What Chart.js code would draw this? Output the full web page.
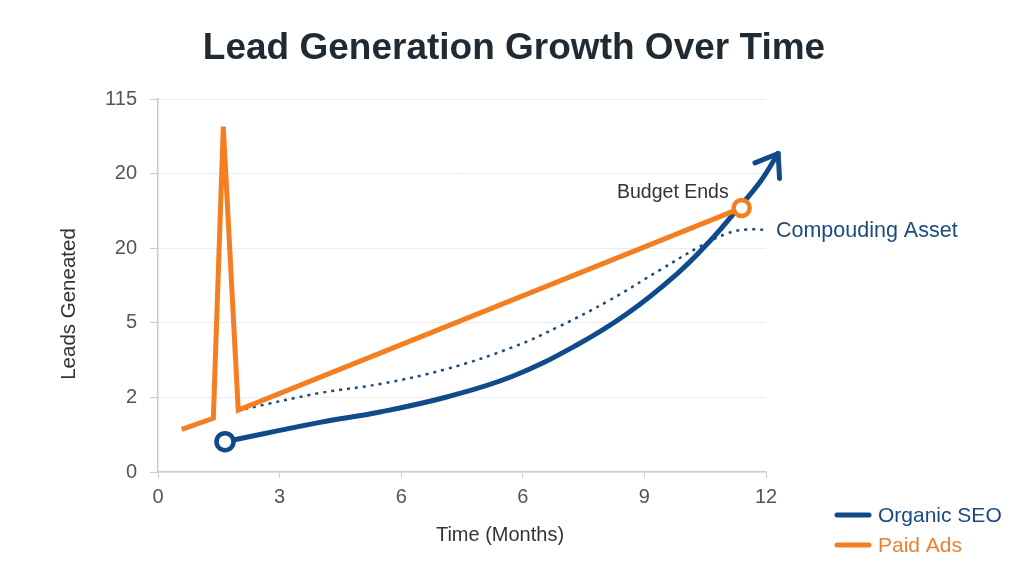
<!DOCTYPE html>
<html>
<head>
<meta charset="utf-8">
<script src="https://cdn.jsdelivr.net/npm/chart.js@4"></script>
<style>
  html, body { margin: 0; padding: 0; background: #fff; }
  #wrap { width: 1024px; height: 585px; }
</style>
</head>
<body>
<div id="wrap"><canvas id="leadChart" width="1024" height="585"></canvas></div>
<script>
// --- Chart data (axis units: evenly spaced tick slots) ---
const xTickLabels = ['0', '3', '6', '6', '9', '12'];
const yTickLabels = ['0', '2', '5', '20', '20', '115'];

const organicX = [0.551, 1.332, 1.826, 2.374, 2.922, 3.429, 3.854, 4.266, 4.539, 4.731, 4.951, 5.10];
const organicY = [0.406, 0.665, 0.804, 1.005, 1.287, 1.689, 2.118, 2.654, 3.097, 3.458, 3.887, 4.27];

const paidX = [0.195, 0.455, 0.537, 0.660, 4.80];
const paidY = [0.57, 0.72, 4.63, 0.83, 3.54];

const assetX = [0.715, 1.332, 1.826, 2.374, 2.922, 3.306, 3.717, 4.128, 4.457, 4.679, 4.844, 5.008];
const assetY = [0.845, 1.059, 1.180, 1.381, 1.676, 1.957, 2.306, 2.708, 3.023, 3.197, 3.251, 3.244];

const BLUE = '#0f4a8a';
const ORANGE = '#f47e22';
const DOT_BLUE = '#1d4a7e';
const FONT = '"Liberation Sans", Arial, sans-serif';

function toPoints(xs, ys) {
    return xs.map((x, i) => ({ x: x, y: ys[i] }));
}

// title, axis titles, arrowhead, callouts and legend
const decorPlugin = {
    id: 'decor',
    afterDatasetsDraw(chart) {
        const ctx = chart.ctx;

        // arrow head
        const blue = chart.getDatasetMeta(2).data;
        const tip = blue[blue.length - 1];
        const prev = blue[blue.length - 2];
        const ang = Math.atan2(tip.y - prev.y, tip.x - prev.x);
        const len = 25;
        ctx.save();
        ctx.strokeStyle = BLUE;
        ctx.lineWidth = 5;
        ctx.lineCap = 'round';
        ctx.lineJoin = 'round';
        ctx.beginPath();
        ctx.moveTo(tip.x - len * Math.cos(ang - 0.62), tip.y - len * Math.sin(ang - 0.62));
        ctx.lineTo(tip.x, tip.y);
        ctx.lineTo(tip.x - len * Math.cos(ang + 0.62), tip.y - len * Math.sin(ang + 0.62));
        ctx.stroke();

        ctx.textBaseline = 'middle';

        // title
        ctx.font = 'bold 37px ' + FONT;
        ctx.fillStyle = '#1f2a33';
        ctx.textAlign = 'center';
        ctx.fillText('Lead Generation Growth Over Time', 514, 49);

        // axis titles
        ctx.font = '20px ' + FONT;
        ctx.fillStyle = '#333';
        ctx.fillText('Time (Months)', 500, 535);
        ctx.save();
        ctx.translate(69, 304);
        ctx.rotate(-Math.PI / 2);
        ctx.font = '20.5px ' + FONT;
        ctx.fillText('Leads Geneated', 0, 0);
        ctx.restore();

        // callouts
        const paid = chart.getDatasetMeta(0).data;
        const end = paid[paid.length - 1];
        ctx.font = '19.5px ' + FONT;
        ctx.fillStyle = '#333';
        ctx.textAlign = 'right';
        ctx.fillText('Budget Ends', end.x - 13, end.y - 15);

        const asset = chart.getDatasetMeta(1).data;
        const aEnd = asset[asset.length - 1];
        ctx.font = '21.5px ' + FONT;
        ctx.fillStyle = DOT_BLUE;
        ctx.textAlign = 'left';
        ctx.fillText('Compouding Asset', aEnd.x + 9, aEnd.y + 1);

        // legend
        const items = [
            { text: 'Organic SEO', color: BLUE, textColor: '#1b4a80', y: 515 },
            { text: 'Paid Ads', color: ORANGE, textColor: '#ef7f2c', y: 545 }
        ];
        ctx.font = '21px ' + FONT;
        items.forEach(it => {
            ctx.strokeStyle = it.color;
            ctx.lineWidth = 5;
            ctx.beginPath();
            ctx.moveTo(837, it.y);
            ctx.lineTo(869, it.y);
            ctx.stroke();
            ctx.fillStyle = it.textColor;
            ctx.fillText(it.text, 878, it.y + 1);
        });
        ctx.restore();
    }
};

const ctx = document.getElementById('leadChart').getContext('2d');
const chart = new Chart(ctx, {
    type: 'line',
    data: {
        datasets: [
            {
                label: 'Paid Ads',
                data: toPoints(paidX, paidY),
                borderColor: ORANGE,
                borderWidth: 5,
                tension: 0,
                pointRadius: paidX.map((_, i) => i === paidX.length - 1 ? 8 : 0),
                pointBorderWidth: 4.5,
                pointBorderColor: ORANGE,
                pointBackgroundColor: '#fff',
                order: 0
            },
            {
                label: 'Compounding Asset',
                data: toPoints(assetX, assetY),
                borderColor: DOT_BLUE,
                borderWidth: 2.5,
                borderDash: [3, 5],
                tension: 0.4,
                pointRadius: 0,
                clip: false,
                order: 2
            },
            {
                label: 'Organic SEO',
                data: toPoints(organicX, organicY),
                borderColor: BLUE,
                borderWidth: 5,
                tension: 0.4,
                borderCapStyle: 'round',
                pointRadius: organicX.map((_, i) => i === 0 ? 8.5 : 0),
                pointBorderWidth: 4.5,
                pointBorderColor: BLUE,
                pointBackgroundColor: '#fff',
                clip: false,
                order: 1
            }
        ]
    },
    options: {
        responsive: false,
        animation: false,
        layout: { padding: { left: 0, right: 258, top: 99, bottom: 0 } },
        plugins: {
            legend: { display: false },
            tooltip: { enabled: false }
        },
        scales: {
            x: {
                type: 'linear',
                min: 0,
                max: 5,
                ticks: {
                    stepSize: 1,
                    color: '#555',
                    font: { family: FONT, size: 20 },
                    padding: 7,
                    callback: v => xTickLabels[v]
                },
                grid: { drawOnChartArea: false, tickLength: 6, color: '#ccc' },
                border: { color: '#ccc', width: 1.5 },
                afterFit: s => { s.height = 113; }
            },
            y: {
                min: 0,
                max: 5,
                ticks: {
                    stepSize: 1,
                    color: '#555',
                    font: { family: FONT, size: 20 },
                    padding: 13,
                    callback: v => yTickLabels[v]
                },
                grid: { color: '#ececec', tickColor: '#ccc', tickLength: 8 },
                border: { color: '#ccc', width: 1.5 },
                afterFit: s => { s.width = 158; }
            }
        }
    },
    plugins: [decorPlugin]
});
</script>
</body>
</html>
